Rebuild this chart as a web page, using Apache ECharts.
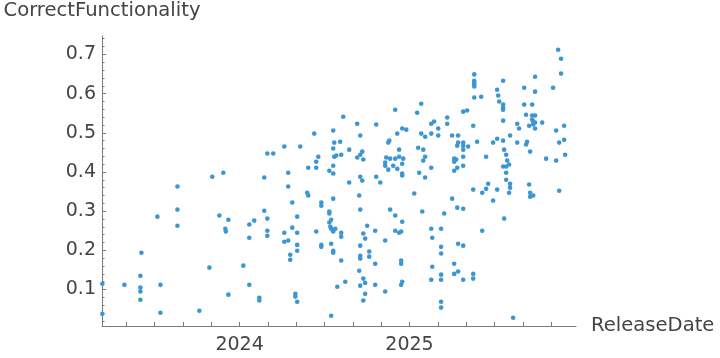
<!DOCTYPE html>
<html>
<head>
<meta charset="utf-8">
<script src="https://cdn.jsdelivr.net/npm/echarts@6/dist/echarts.min.js"></script>
<style>
html,body{margin:0;padding:0;background:#fff;}
#chart{width:720px;height:358px;}
</style>
</head>
<body>
<div id="chart"></div>
<script>
// Release date as decimal year
const releaseDate = [
2023.192,2023.192,2023.322,2023.416,2023.422,2023.416,2023.416,2023.416,2023.516,2023.534,
2023.534,2023.634,2023.634,2023.634,2023.763,2023.822,2023.839,2023.881,2023.904,2023.916,
2023.919,2023.934,2023.934,2024.022,2024.057,2024.057,2024.057,2024.086,2024.116,2024.116,
2024.145,2024.145,2024.163,2024.163,2024.163,2024.163,2024.198,2024.263,2024.263,2024.263,
2024.286,2024.286,2024.286,2024.298,2024.298,2024.310,2024.310,2024.328,2024.328,2024.339,
2024.339,2024.339,2024.339,2024.339,2024.357,2024.398,2024.404,2024.404,2024.439,2024.451,
2024.451,2024.463,2024.451,2024.481,2024.481,2024.481,2024.481,2024.528,2024.528,2024.528,
2024.528,2024.534,2024.539,2024.539,2024.539,2024.539,2024.551,2024.551,2024.557,2024.551,
2024.551,2024.557,2024.569,2024.551,2024.551,2024.563,2024.551,2024.551,2024.575,2024.592,
2024.598,2024.598,2024.598,2024.598,2024.610,2024.622,2024.645,2024.645,2024.692,2024.692,
2024.710,2024.710,2024.722,2024.728,2024.710,2024.722,2024.704,2024.710,2024.751,2024.728,
2024.739,2024.710,2024.710,2024.710,2024.763,2024.763,2024.704,2024.728,2024.739,2024.710,
2024.739,2024.728,2024.798,2024.798,2024.798,2024.804,2024.804,2024.828,2024.857,2024.857,
2024.857,2024.857,2024.863,2024.875,2024.881,2024.875,2024.886,2024.886,2024.916,2024.916,
2024.904,2024.928,2024.928,2024.916,2024.916,2024.939,2024.939,2024.939,2024.951,2024.957,
2024.981,2024.963,2024.957,2024.957,2024.957,2024.957,2024.951,2024.951,2024.957,2024.951,
2025.028,2025.045,2025.069,2025.051,2025.069,2025.092,2025.081,2025.092,2025.081,2025.057,
2025.092,2025.075,2025.128,2025.128,2025.128,2025.128,2025.134,2025.134,2025.128,2025.145,
2025.169,2025.169,2025.186,2025.186,2025.186,2025.186,2025.186,2025.186,2025.186,2025.204,
2025.222,2025.222,2025.251,2025.251,2025.263,2025.263,2025.263,2025.263,2025.263,2025.275,
2025.281,2025.286,2025.286,2025.281,2025.281,2025.286,2025.286,2025.316,2025.339,2025.316,
2025.316,2025.316,2025.316,2025.316,2025.316,2025.316,2025.316,2025.345,2025.375,2025.381,
2025.381,2025.381,2025.381,2025.381,2025.381,2025.375,2025.375,2025.375,2025.398,2025.422,
2025.428,2025.428,2025.451,2025.451,2025.463,2025.492,2025.492,2025.516,2025.516,2025.516,
2025.522,2025.528,2025.551,2025.551,2025.551,2025.551,2025.551,2025.551,2025.557,2025.569,
2025.575,2025.551,2025.569,2025.586,2025.569,2025.569,2025.592,2025.592,2025.592,2025.586,
2025.557,2025.610,2025.634,2025.645,2025.634,2025.675,2025.675,2025.686,2025.692,2025.686,
2025.704,2025.710,2025.704,2025.710,2025.710,2025.739,2025.739,2025.722,2025.722,2025.739,
2025.722,2025.728,2025.739,2025.728,2025.739,2025.781,2025.728,2025.804,2025.845,2025.863,
2025.863,2025.875,2025.892,2025.892,2025.881,2025.881,2025.910,2025.910,2025.916
];
const correctFunctionality = [
0.115,0.038,0.112,0.135,0.194,0.105,0.095,0.074,0.286,0.112,
0.041,0.363,0.304,0.263,0.046,0.156,0.388,0.289,0.398,0.255,
0.248,0.278,0.087,0.161,0.266,0.232,0.112,0.276,0.079,0.072,
0.386,0.301,0.447,0.281,0.250,0.237,0.447,0.465,0.245,0.222,
0.398,0.363,0.225,0.189,0.176,0.322,0.258,0.089,0.082,0.286,
0.245,0.214,0.199,0.069,0.465,0.347,0.340,0.411,0.498,0.426,
0.411,0.439,0.248,0.322,0.314,0.214,0.209,0.403,0.299,0.294,
0.271,0.260,0.278,0.255,0.217,0.033,0.506,0.460,0.475,0.416,
0.396,0.439,0.442,0.332,0.248,0.255,0.199,0.194,0.107,0.477,
0.444,0.245,0.235,0.174,0.541,0.120,0.457,0.373,0.523,0.437,
0.493,0.444,0.452,0.432,0.388,0.378,0.340,0.304,0.263,0.243,
0.230,0.212,0.186,0.179,0.197,0.184,0.148,0.128,0.117,0.110,
0.089,0.072,0.250,0.166,0.112,0.521,0.388,0.373,0.225,0.095,
0.424,0.416,0.437,0.475,0.480,0.406,0.434,0.304,0.559,0.434,
0.416,0.498,0.408,0.289,0.250,0.457,0.439,0.245,0.248,0.511,
0.508,0.434,0.421,0.396,0.391,0.273,0.174,0.166,0.120,0.112,
0.345,0.551,0.574,0.462,0.498,0.490,0.457,0.439,0.429,0.398,
0.386,0.299,0.523,0.498,0.411,0.255,0.232,0.158,0.125,0.529,
0.511,0.493,0.255,0.209,0.192,0.138,0.125,0.069,0.054,0.294,
0.539,0.523,0.493,0.332,0.434,0.426,0.403,0.166,0.140,0.432,
0.467,0.475,0.493,0.411,0.309,0.217,0.146,0.554,0.557,0.475,
0.467,0.457,0.439,0.416,0.306,0.212,0.125,0.465,0.518,0.649,
0.633,0.628,0.623,0.618,0.590,0.355,0.140,0.128,0.477,0.592,
0.347,0.250,0.439,0.357,0.370,0.475,0.327,0.610,0.485,0.355,
0.595,0.580,0.633,0.572,0.564,0.559,0.531,0.480,0.457,0.444,
0.429,0.414,0.414,0.419,0.398,0.380,0.493,0.370,0.360,0.347,
0.281,0.028,0.523,0.511,0.475,0.615,0.572,0.546,0.477,0.470,
0.518,0.452,0.368,0.347,0.337,0.643,0.605,0.572,0.544,0.544,
0.534,0.529,0.526,0.521,0.511,0.526,0.340,0.434,0.615,0.506,
0.429,0.712,0.689,0.651,0.475,0.352,0.518,0.482,0.444
];

// Axis ticks
const xTickYears = [2024, 2025];
const xTickMonths = [
  [2023,5],[2023,7],[2023,9],[2023,11],[2024,1],[2024,3],[2024,5],[2024,7],[2024,9],[2024,11],
  [2025,1],[2025,3],[2025,5],[2025,7],[2025,9],[2025,11]
];
const yMajorTicks = [0.1, 0.2, 0.3, 0.4, 0.5, 0.6, 0.7];
const yMinorTicks = [0.02,0.04,0.06,0.08,0.12,0.14,0.16,0.18,0.22,0.24,0.26,0.28,0.32,0.34,0.36,0.38,
  0.42,0.44,0.46,0.48,0.52,0.54,0.56,0.58,0.62,0.64,0.66,0.68,0.72,0.74];

const xTickValues = xTickMonths.map(([y, m]) => y + (m - 1) / 12);
const points = releaseDate.map((d, i) => [d, correctFunctionality[i]]);

const X_MIN = 2023.19, X_MAX = 2025.98, Y_MIN = 0.007, Y_MAX = 0.747;
const axisColor = '#7a7a7a';
const textColor = '#444444';
const font = 'DejaVu Sans';

const chart = echarts.init(document.getElementById('chart'), null, {renderer: 'canvas'});
chart.setOption({
  animation: false,
  backgroundColor: '#ffffff',
  grid: {left: 102, right: 144, top: 36, bottom: 32, containLabel: false},
  xAxis: [{
    type: 'value', min: X_MIN, max: X_MAX,
    name: 'ReleaseDate', nameLocation: 'end', nameGap: 15,
    nameTextStyle: {fontFamily: font, fontSize: 19.6, color: textColor},
    axisLine: {show: true, lineStyle: {color: axisColor, width: 1}},
    axisTick: {show: true, inside: true, length: 4, customValues: xTickValues, lineStyle: {color: axisColor}},
    axisLabel: {customValues: xTickYears, formatter: v => String(Math.round(v)),
      fontFamily: font, fontSize: 19, color: textColor, margin: 10},
    splitLine: {show: false}
  }],
  yAxis: [{
    type: 'value', min: Y_MIN, max: Y_MAX,
    name: 'CorrectFunctionality', nameLocation: 'end', nameGap: 15,
    nameTextStyle: {fontFamily: font, fontSize: 19.6, color: textColor},
    axisLine: {show: true, lineStyle: {color: axisColor, width: 1}},
    axisTick: {show: true, inside: true, length: 4, customValues: yMajorTicks, lineStyle: {color: axisColor}},
    axisLabel: {customValues: yMajorTicks, formatter: v => v.toFixed(1),
      fontFamily: font, fontSize: 19, color: textColor, margin: 6},
    splitLine: {show: false}
  }, {
    type: 'value', min: Y_MIN, max: Y_MAX, position: 'left', offset: 0,
    axisLine: {show: false},
    axisTick: {show: true, inside: true, length: 2.5, customValues: yMinorTicks, lineStyle: {color: axisColor}},
    axisLabel: {show: false},
    splitLine: {show: false}
  }],
  series: [{
    type: 'scatter',
    xAxisIndex: 0, yAxisIndex: 0,
    data: points,
    symbol: 'circle',
    symbolSize: 4.6,
    itemStyle: {color: '#3b96d2', opacity: 1},
    clip: false
  }]
});
</script>
</body>
</html>
